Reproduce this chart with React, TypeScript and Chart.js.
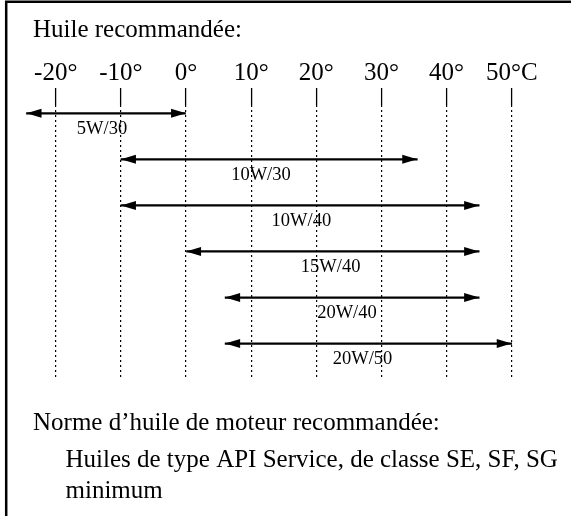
import React, { useEffect, useRef } from "react";
import { Chart, registerables } from "chart.js";

Chart.register(...registerables);

// ---- data ----
const grades = ["5W/30", "10W/30", "10W/40", "15W/40", "20W/40", "20W/50"];
const lowTemps = [-24.5, -10, -10, 0, 6, 6];
const highTemps = [0, 35.5, 45, 45, 45, 50];
const labelAt = [-12.9, 11.5, 17.7, 22.2, 24.7, 27.1];
const tickValues = [-20, -10, 0, 10, 20, 30, 40, 50];
const tickLabels = ["-20°", "-10°", "0°", "10°", "20°", "30°", "40°", "50°C"];
const titleText = "Huile recommandée:";
const noteHeading = "Norme d’huile de moteur recommandée:";
const noteLines = ["Huiles de type API Service, de classe SE, SF, SG", "minimum"];

const SERIF = "'Liberation Serif', 'Times New Roman', serif";

const decorPlugin = {
  id: "decor",
  beforeDraw(chart: any) {
    const ctx = chart.ctx;
    ctx.save();
    ctx.fillStyle = "#fff";
    ctx.fillRect(0, 0, chart.width, chart.height);
    ctx.strokeStyle = "#000";
    ctx.lineWidth = 2.5;
    ctx.beginPath();
    ctx.moveTo(6.2, chart.height + 5);
    ctx.lineTo(6.2, 1.8);
    ctx.lineTo(chart.width + 5, 1.8);
    ctx.stroke();
    ctx.restore();
  },
  afterDatasetsDraw(chart: any) {
    const ctx = chart.ctx;
    const xs = chart.scales.x;
    const ys = chart.scales.y;
    ctx.save();
    ctx.fillStyle = "#000";
    const L = 15;
    const W = 4.5;
    grades.forEach((g, i) => {
      const y = ys.getPixelForValue(i);
      const a = xs.getPixelForValue(lowTemps[i]);
      const b = xs.getPixelForValue(highTemps[i]);
      ctx.beginPath();
      ctx.moveTo(a, y);
      ctx.lineTo(a + L, y - W);
      ctx.lineTo(a + L, y + W);
      ctx.closePath();
      ctx.fill();
      ctx.beginPath();
      ctx.moveTo(b, y);
      ctx.lineTo(b - L, y - W);
      ctx.lineTo(b - L, y + W);
      ctx.closePath();
      ctx.fill();
      ctx.font = `18.5px ${SERIF}`;
      ctx.textAlign = "center";
      ctx.textBaseline = "middle";
      ctx.fillText(g, xs.getPixelForValue(labelAt[i]), y + 16);
    });
    ctx.restore();
  },
  afterDraw(chart: any) {
    const ctx = chart.ctx;
    ctx.save();
    ctx.fillStyle = "#000";
    ctx.font = `25px ${SERIF}`;
    ctx.textAlign = "left";
    ctx.textBaseline = "alphabetic";
    ctx.fillText(titleText, 33, 37);
    ctx.fillText(noteHeading, 33, 430);
    ctx.fillText(noteLines[0], 65.5, 466.5);
    ctx.fillText(noteLines[1], 65.5, 497.5);
    ctx.restore();
  },
};

export default function App() {
  const ref = useRef<HTMLCanvasElement | null>(null);
  useEffect(() => {
    if (!ref.current) return;
    const chart = new Chart(ref.current, {
      type: "bar",
      data: {
        datasets: [
          {
            data: grades.map((g, i) => ({ x: [lowTemps[i], highTemps[i]], y: i })) as any,
            backgroundColor: "#000",
            borderWidth: 0,
            barThickness: 1.6,
          },
        ],
      },
      options: {
        indexAxis: "y",
        animation: false,
        responsive: false,
        devicePixelRatio: 1,
        layout: { padding: { left: 16.7, right: 20.2, top: 58, bottom: 136 } },
        plugins: { legend: { display: false }, tooltip: { enabled: false }, title: { display: false } },
        scales: {
          x: {
            type: "linear",
            position: "top",
            min: -26,
            max: 56,
            afterBuildTicks: (scale: any) => {
              scale.ticks = tickValues.map((v) => ({ value: v }));
            },
            grid: {
              display: true,
              color: "#000",
              lineWidth: 1.2,
              drawTicks: true,
              tickLength: 17,
              tickColor: "#000",
              tickWidth: 1.3,
              tickBorderDash: [],
            },
            border: { display: false, dash: [2, 3] },
            ticks: {
              autoSkip: false,
              maxRotation: 0,
              padding: 0,
              color: "#000",
              font: { family: SERIF, size: 25 },
              callback: (_v: any, idx: number) => tickLabels[idx],
            },
          },
          y: {
            type: "linear",
            reverse: true,
            min: -0.18,
            max: 5.79,
            offset: false,
            grid: { offset: false },
            display: false,
          },
        },
      },
      plugins: [decorPlugin],
    } as any);
    return () => chart.destroy();
  }, []);
  return (
    <div style={{ position: "fixed", left: 0, top: 0, width: 571, height: 516, background: "#fff" }}>
      <canvas ref={ref} width={571} height={516} style={{ display: "block", width: 571, height: 516 }} />
    </div>
  );
}
